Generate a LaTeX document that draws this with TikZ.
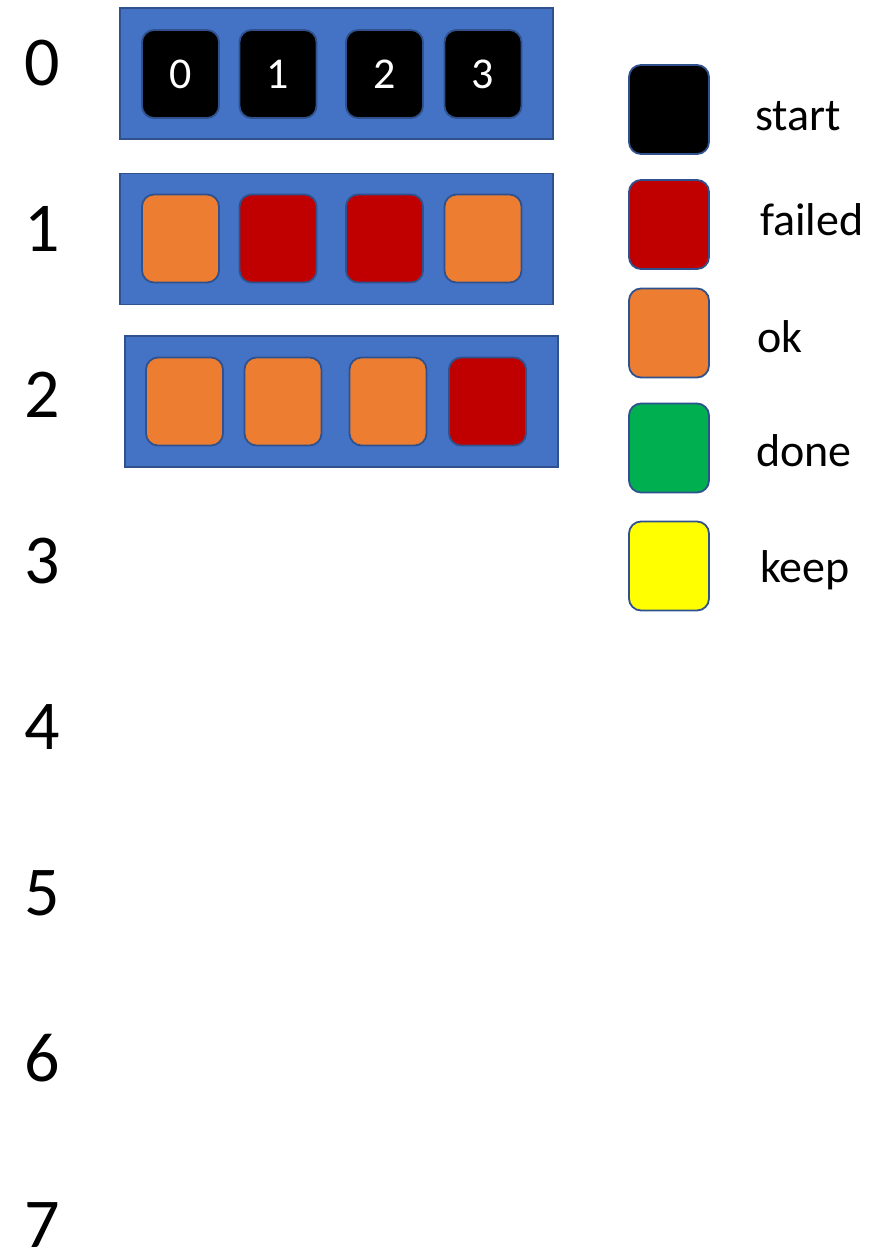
\documentclass[tikz,border=0pt]{standalone}
\usepackage{fontspec}
\setmainfont{Carlito}
\usepackage{tikz}
\usetikzlibrary{positioning}
\definecolor{Frame}{HTML}{4472C4}
\definecolor{Edge}{HTML}{2F528F}
\definecolor{Start}{HTML}{000000}
\definecolor{Failed}{HTML}{C00000}
\definecolor{Ok}{HTML}{ED7D31}
\definecolor{Done}{HTML}{00B050}
\definecolor{Keep}{HTML}{FFFF00}
\tikzset{
  frame/.style={
    draw=Edge,line width=1.5pt,fill=Frame,
    minimum width=433pt,minimum height=131pt
  },
  cell/.style={
    rounded corners=12pt,draw=Edge,line width=1.8pt,fill=#1,
    minimum width=77pt,minimum height=88pt,inner sep=0pt,
    text=white,font=\fontsize{44}{50}\selectfont
  },
  legbox/.style={
    rounded corners=12pt,draw=Edge,line width=1.8pt,fill=#1,
    minimum width=80pt,minimum height=89pt
  },
  legtext/.style={anchor=base west,inner sep=0pt,font=\fontsize{46}{52}\selectfont},
  rowlabel/.style={anchor=base,inner sep=0pt,font=\fontsize{70}{78}\selectfont}
}

\begin{document}
\begin{tikzpicture}[x=1pt,y=-1pt]
  \useasboundingbox (0,0) rectangle (886,1253);
  % step numbers
  \foreach \i in {0,...,7}
    \node[rowlabel] (lab\i) at (42.5,85+166*\i) {\i};
  % steps
  \node[frame] (f0) at (336.5,73.5) {};
  \node[frame] (f1) at (336.5,239) {};
  \node[frame] (f2) at (341.5,401.5) {};
  \foreach \x/\col [count=\k from 0] in {180.5/Start,278/Start,384.5/Start,483/Start}
    \node[cell=\col] (c0\k) at (\x,74) {\k};
  \foreach \x/\col [count=\k from 0] in {180.5/Ok,278/Failed,384.5/Failed,483/Ok}
    \node[cell=\col] (c1\k) at (\x,238.5) {};
  \foreach \x/\col [count=\k from 0] in {184.5/Ok,283/Ok,388/Ok,487.5/Failed}
    \node[cell=\col] (c2\k) at (\x,401.5) {};
  % legend
  \foreach \y/\col/\tx/\b/\txt in {109.5/Start/755/130/start,224.5/Failed/760/235/failed,
      333/Ok/757/352/ok,448/Done/756/466/done,566/Keep/760/582/keep}{
    \node[legbox=\col] (key\col) at (669,\y) {};
    \node[legtext] (name\col) at (\tx,\b) {\txt};
  }
\end{tikzpicture}
\end{document}
